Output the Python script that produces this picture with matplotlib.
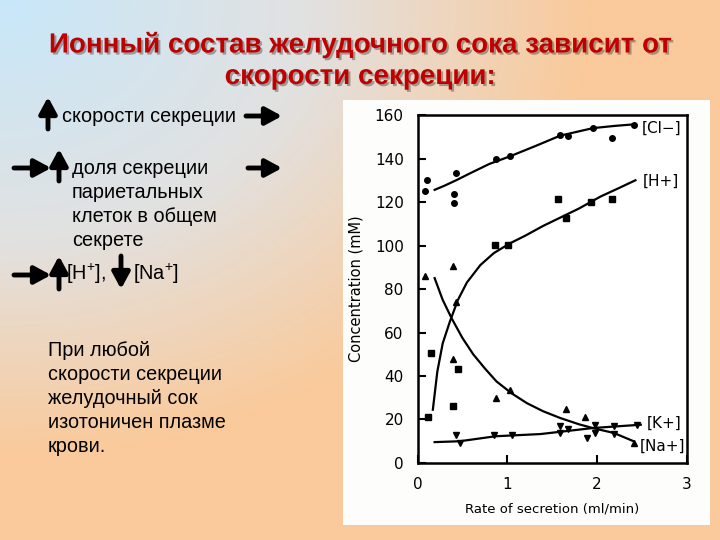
import numpy as np
import matplotlib
matplotlib.use("Agg")
import matplotlib.pyplot as plt
import matplotlib.patheffects as pe
from matplotlib.patches import Rectangle

plt.rcParams["font.family"] = ["Liberation Sans", "DejaVu Sans"]
plt.rcParams["mathtext.fontset"] = "custom"
plt.rcParams["mathtext.rm"] = "Liberation Sans"
plt.rcParams["mathtext.default"] = "rm"

# ───────────── data ─────────────
cl_x = [0.08, 0.11, 0.41, 0.41, 0.43, 0.87, 1.03, 1.59, 1.68, 1.96, 2.17, 2.41]
cl_y = [125, 130, 123.5, 119.5, 133.5, 140, 141, 151, 150.5, 154, 149.5, 155.5]
cl_fit_x = [0.19, 0.30, 0.43, 0.60, 0.80, 1.03, 1.30, 1.59, 1.80, 1.96, 2.20, 2.41]
cl_fit_y = [125.6, 127.5, 130, 133.5, 137.5, 141, 145.5, 150.5, 152.5, 154, 155, 155.7]

h_x = [0.12, 0.15, 0.40, 0.45, 0.86, 1.01, 1.57, 1.66, 1.93, 2.17]
h_y = [21, 50.5, 26, 43, 100.3, 100.3, 121.3, 112.6, 120.2, 121.3]
h_fit_x = [0.17, 0.22, 0.28, 0.36, 0.45, 0.55, 0.70, 0.85, 1.03, 1.20, 1.40, 1.60, 1.80, 2.04, 2.25, 2.43]
h_fit_y = [24.5, 42, 55, 65, 75, 83, 91, 96.5, 101, 104.5, 109, 113, 117, 122.5, 126.5, 130]

na_x = [0.08, 0.39, 0.43, 0.39, 0.87, 1.03, 1.66, 1.87, 2.41]
na_y = [86, 90.5, 74, 48, 30, 33.7, 24.8, 21, 9.2]
na_fit_x = [0.19, 0.28, 0.38, 0.50, 0.62, 0.75, 0.88, 1.05, 1.22, 1.40, 1.59, 1.80, 1.96, 2.19, 2.41]
na_fit_y = [85, 75, 66.5, 57.5, 50, 43.5, 37.5, 32, 27.5, 23.8, 20.7, 17.8, 16, 13.8, 10]

k_x = [0.43, 0.47, 0.85, 1.05, 1.59, 1.68, 1.59, 1.89, 1.98, 1.98, 2.19, 2.19, 2.45]
k_y = [13, 9.2, 12.7, 12.7, 13.8, 15.6, 16.8, 11.5, 13.8, 17.6, 16.8, 13.3, 17.6]
k_fit_x = [0.19, 0.47, 0.87, 1.37, 1.96, 2.49]
k_fit_y = [9.6, 10, 12.3, 13.3, 16.1, 17.6]

x_ticks = [0, 1, 2, 3]
y_ticks = [0, 20, 40, 60, 80, 100, 120, 140, 160]

title_lines = ["Ионный состав желудочного сока зависит от", "скорости секреции:"]
item2_lines = ["доля секреции", "париетальных", "клеток в общем", "секрете"]
note_lines = ["При любой", "скорости секреции", "желудочный сок", "изотоничен плазме", "крови."]

# ───────────── slide background ─────────────
fig = plt.figure(figsize=(7.2, 5.4), dpi=100)
bg = fig.add_axes([0, 0, 1, 1])
bg.set_xlim(0, 720)
bg.set_ylim(540, 0)
bg.axis("off")

# radial gradient from the top-left corner: light blue -> grey -> peach
gx, gy = np.meshgrid(np.linspace(0, 720, 240), np.linspace(0, 540, 180))
t = np.clip(np.sqrt((gx / 620) ** 2 + (gy / 480) ** 2) / 0.95, 0, 1)[..., None]
c0 = np.array([200, 232, 250]) / 255
c1 = np.array([226, 225, 224]) / 255
c2 = np.array([250, 202, 155]) / 255
img = np.where(t < 0.53, c0 + (c1 - c0) * (t / 0.53), c1 + (c2 - c1) * ((t - 0.53) / 0.47))
bg.imshow(img, extent=[0, 720, 540, 0], aspect="auto", zorder=0)

# title
shadow = [pe.withSimplePatchShadow(offset=(1.5, -1.5), shadow_rgbFace="#555555", alpha=0.5)]
for i, line in enumerate(title_lines):
    bg.text(360, 45 + i * 32, line, ha="center", va="center", fontsize=20,
            fontweight="bold", color="#C00000", path_effects=shadow)

# left side text
def up_arrow(x, y0, y1):
    bg.annotate("", xy=(x, y1), xytext=(x, y0),
                arrowprops=dict(arrowstyle="-|>,head_length=0.7,head_width=0.38",
                                lw=3.5, color="black", shrinkA=0, shrinkB=0, mutation_scale=14))

def right_arrow(x0, x1, y):
    bg.annotate("", xy=(x1, y), xytext=(x0, y),
                arrowprops=dict(arrowstyle="-|>,head_length=0.7,head_width=0.38",
                                lw=3.5, color="black", shrinkA=0, shrinkB=0, mutation_scale=14))

fs = 14.3
up_arrow(48, 129, 97)
bg.text(62, 117, "скорости секреции", fontsize=fs, va="center", color="black")
right_arrow(246, 282, 116)

right_arrow(14, 51, 168)
up_arrow(59, 181, 149)
for i, line in enumerate(item2_lines):
    bg.text(72, 168 + i * 24, line, fontsize=fs, va="center", color="black")
right_arrow(248, 282, 168)

right_arrow(14, 51, 275)
up_arrow(59, 289, 256)
bg.text(66, 274, "[H$^{+}$],", fontsize=fs, va="center", color="black")
up_arrow(121, 256, 289)
bg.text(133, 274, "[Na$^{+}$]", fontsize=fs, va="center", color="black")

for i, line in enumerate(note_lines):
    bg.text(48, 351 + i * 24, line, fontsize=fs, va="center", color="black")

# white panel behind the chart
bg.add_patch(Rectangle((343, 100), 367, 425, facecolor="#FDFDFB", edgecolor="none", zorder=1))

# ───────────── chart ─────────────
ax = fig.add_axes([0.580, 0.1426, 0.3735, 0.6444])
ax.set_xlim(0, 3)
ax.set_ylim(0, 160)
ax.set_facecolor("white")
for s in ax.spines.values():
    s.set_linewidth(1.8)

lw = 1.6
ax.plot(cl_fit_x, cl_fit_y, color="black", lw=lw)
ax.plot(h_fit_x, h_fit_y, color="black", lw=lw)
ax.plot(na_fit_x, na_fit_y, color="black", lw=lw)
ax.plot(k_fit_x, k_fit_y, color="black", lw=lw)

ax.plot(cl_x, cl_y, "o", color="black", ms=4)
ax.plot(h_x, h_y, "s", color="black", ms=4)
ax.plot(na_x, na_y, "^", color="black", ms=4)
ax.plot(k_x, k_y, "v", color="black", ms=4)

lab_kw = dict(fontsize=11, family=["DejaVu Sans"], va="center", ha="center")
ax.text(2.72, 154, "[Cl−]", **lab_kw)
ax.text(2.71, 129.7, "[H+]", **lab_kw)
ax.text(2.75, 18.4, "[K+]", **lab_kw)
ax.text(2.73, 7.5, "[Na+]", **lab_kw)

ax.set_xticks(x_ticks)
ax.set_yticks(y_ticks)
ax.tick_params(direction="in", length=6, width=1.5, labelsize=11, pad=10)
for lbl in ax.get_xticklabels() + ax.get_yticklabels():
    lbl.set_family("DejaVu Sans")
ax.set_xlabel("Rate of secretion (ml/min)", fontsize=9.5, family="DejaVu Sans", labelpad=8)
ax.set_ylabel("Concentration (mM)", fontsize=10.5, family="DejaVu Sans", labelpad=8)

fig.savefig("out.png", dpi=100)
